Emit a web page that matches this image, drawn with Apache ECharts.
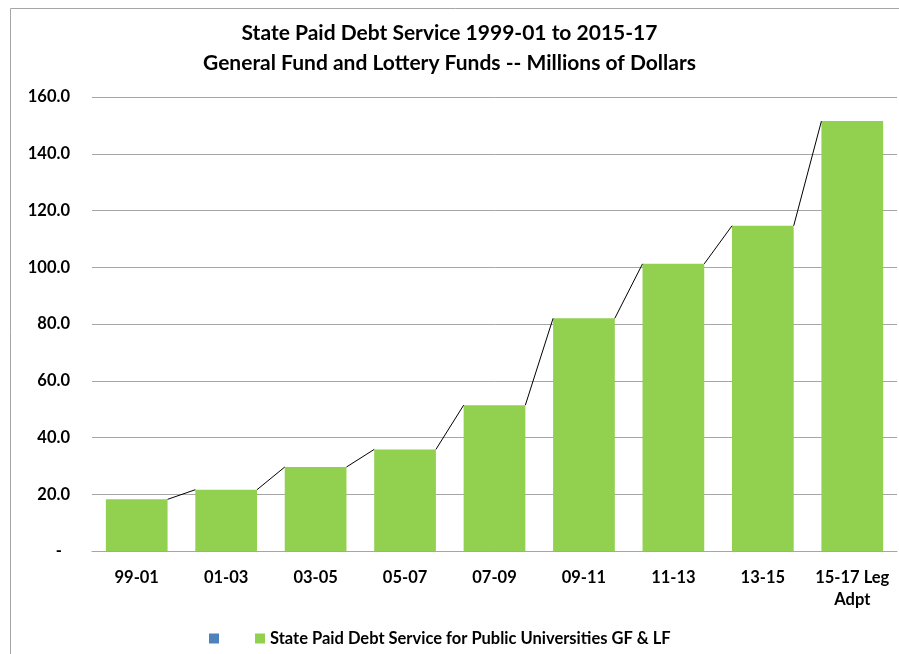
<!DOCTYPE html>
<html>
<head>
<meta charset="utf-8">
<script src="https://cdn.jsdelivr.net/npm/echarts@6/dist/echarts.min.js"></script>
<style>
  html, body { margin: 0; padding: 0; background: #fff; }
  #chart { width: 899px; height: 654px; }
</style>
</head>
<body>
<div id="chart"></div>
<script>
// Biennium labels and debt service (millions of dollars)
const categories = ['99-01', '01-03', '03-05', '05-07', '07-09', '09-11', '11-13', '13-15', '15-17 Leg\nAdpt'];
const debtService = [18.2, 21.6, 29.6, 35.8, 51.4, 82.0, 101.2, 114.6, 151.5];
const yTicks = { min: 0, max: 160, interval: 20 };

const titleLines = [
  'State Paid Debt Service 1999-01 to 2015-17',
  'General Fund and Lottery Funds -- Millions of Dollars'
];
const seriesName = 'State Paid Debt Service for Public Universities GF & LF';
const blankName = ' ';

const FONT = 'Lato';
const LABEL_SIZE = 16.5;
const BAR_GAP = 0.31;

// Connector segments: from the top-right of one bar to the top-left of the next
const connectorData = debtService.slice(0, -1).map((v, i) => [i, v, debtService[i + 1]]);

const chart = echarts.init(document.getElementById('chart'));
chart.setOption({
  animation: false,
  backgroundColor: '#fff',
  title: {
    text: titleLines.join('\n'),
    left: 'center',
    top: 13,
    textStyle: { fontFamily: FONT, fontWeight: 'bold', fontSize: 21, color: '#000', lineHeight: 30 }
  },
  graphic: [{
    type: 'rect',
    shape: { x: 10.5, y: 8.5, width: 900, height: 700 },
    style: { fill: 'none', stroke: '#a6a6a6', lineWidth: 1 },
    silent: true
  }],
  legend: {
    left: 204,
    top: 625,
    icon: 'rect',
    itemWidth: 10,
    itemHeight: 10,
    itemGap: 27,
    data: [blankName, seriesName],
    textStyle: { fontFamily: FONT, fontWeight: 'bold', fontSize: LABEL_SIZE, color: '#000' }
  },
  grid: { left: 92, right: 2, top: 97, bottom: 103 },
  xAxis: {
    type: 'category',
    data: categories,
    axisTick: { show: false },
    axisLine: { lineStyle: { color: '#a6a6a6', width: 1 } },
    axisLabel: {
      interval: 0,
      fontFamily: FONT, fontWeight: 'bold', fontSize: LABEL_SIZE, color: '#000',
      margin: 16, lineHeight: 22
    }
  },
  yAxis: {
    type: 'value',
    min: yTicks.min,
    max: yTicks.max,
    interval: yTicks.interval,
    axisLine: { show: false },
    axisTick: { show: false },
    splitLine: { lineStyle: { color: '#a6a6a6', width: 1 } },
    axisLabel: {
      fontFamily: FONT, fontWeight: 'bold', fontSize: LABEL_SIZE, color: '#000', margin: 22,
      formatter: v => (v === 0 ? '-  ' : v.toFixed(1))
    }
  },
  series: [
    {
      name: blankName,
      type: 'line',
      data: [],
      itemStyle: { color: '#4F81BD' }
    },
    {
      name: seriesName,
      type: 'bar',
      data: debtService,
      barCategoryGap: (BAR_GAP * 100) + '%',
      itemStyle: { color: '#92D050' }
    },
    {
      type: 'custom',
      data: connectorData,
      silent: true,
      z: 3,
      renderItem: (params, api) => {
        const i = api.value(0);
        const a = api.coord([i, api.value(1)]);
        const b = api.coord([i + 1, api.value(2)]);
        const half = api.size([1, 0])[0] * (1 - BAR_GAP) / 2;
        return {
          type: 'line',
          shape: { x1: a[0] + half, y1: a[1], x2: b[0] - half, y2: b[1] },
          style: { stroke: '#000', lineWidth: 1 }
        };
      }
    }
  ]
});
</script>
</body>
</html>
